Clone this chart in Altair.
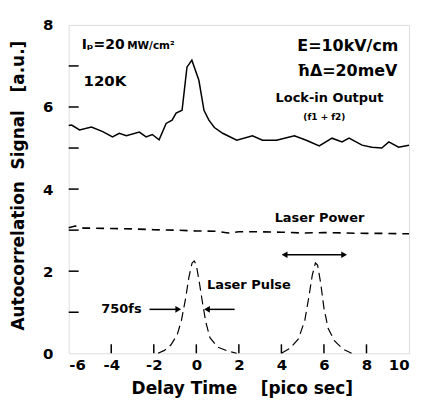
import altair as alt
import pandas as pd

# Lock-in output (f1+f2)
lock_x = [-6.0, -5.86, -5.49, -4.93, -4.4, -3.94, -3.62, -3.29, -2.68, -2.36, -2.07, -1.75, -1.42,
          -1.14, -0.95, -0.67, -0.44, -0.21, 0.12, 0.36, 0.59, 0.85, 1.24, 1.9, 2.64, 3.11, 3.77,
          4.61, 5.17, 5.78, 6.38, 6.85, 7.18, 7.79, 8.25, 8.72, 9.05, 9.51, 10.0]
lock_y = [5.55, 5.56, 5.44, 5.51, 5.4, 5.27, 5.36, 5.3, 5.39, 5.27, 5.33, 5.2, 5.6,
          5.68, 5.85, 5.92, 6.97, 7.14, 6.65, 5.92, 5.68, 5.5, 5.36, 5.19, 5.3, 5.19, 5.19,
          5.3, 5.19, 5.05, 5.24, 5.15, 5.24, 5.07, 5.02, 5.0, 5.15, 5.02, 5.07]

# Laser power
pow_x = [-6.0, -5.7, -5.3, -5.0, -4.0, -3.0, -2.0, -1.0, 0.0, 1.0, 1.5, 2.0, 3.0, 4.0, 5.0, 6.0, 7.0, 8.0, 9.0, 10.0]
pow_y = [3.06, 3.1, 3.05, 3.05, 3.04, 3.03, 3.01, 3.0, 2.98, 2.97, 2.93, 2.96, 2.96, 2.95, 2.93, 2.94, 2.93, 2.92, 2.92, 2.91]

# Laser pulses
p1_x = [-1.8, -1.5, -1.2, -0.9, -0.7, -0.5, -0.35, -0.2, -0.1, 0.0, 0.15, 0.3, 0.45, 0.64, 1.0, 1.5, 1.9]
p1_y = [0.0, 0.07, 0.2, 0.45, 0.8, 1.35, 1.85, 2.2, 2.25, 2.15, 1.7, 1.2, 0.75, 0.38, 0.15, 0.05, 0.0]
p2_x = [4.0, 4.4, 4.8, 5.1, 5.3, 5.45, 5.6, 5.7, 5.85, 6.0, 6.2, 6.5, 6.9, 7.3]
p2_y = [0.0, 0.12, 0.35, 0.8, 1.4, 1.9, 2.2, 2.15, 1.7, 1.1, 0.6, 0.3, 0.1, 0.0]

x_labels = [-6, -4, -2, 0, 2, 4, 6, 8, 10]
y_labels = [0, 2, 4, 6, 8]
x_ticks = [-4, -2, 0, 2, 4, 6, 8]
y_ticks = [1, 2, 3, 4, 5, 6, 7]

NB = "\u00a0"
x_title = "Delay" + NB + "Time" + NB * 4 + "[pico" + NB + "sec]"
y_title = "Autocorrelation" + NB * 2 + "Signal" + NB * 3 + "[a.u.]"

# annotations
ann_text = ["120K", "E=10kV/cm", "ħΔ=20meV", "Lock-in Output", "Laser Power", "Laser Pulse", "750fs"]
ann_x = [-5.3, 9.5, 9.45, 6.26, 5.79, 2.47, -3.52]
ann_y = [6.64, 7.49, 6.88, 6.23, 3.3, 1.67, 1.07]
ann_size = [15, 16, 16, 13, 13, 13, 13]
ann_align = ["left", "right", "right", "center", "center", "center", "center"]

FONT = "DejaVu Sans"
W, H = 342, 330
xs = alt.Scale(domain=[-6, 10], nice=False, zero=False)
ys = alt.Scale(domain=[0, 8], nice=False, zero=False)

lock = pd.DataFrame({"x": lock_x, "y": lock_y})
power = pd.DataFrame({"x": pow_x, "y": pow_y})
pulse = pd.DataFrame({"x": p1_x + p2_x, "y": p1_y + p2_y,
                      "g": ["a"] * len(p1_x) + ["b"] * len(p2_x)})

base_x = alt.X("x:Q", scale=xs,
               axis=alt.Axis(values=x_labels, ticks=False, domain=False, grid=False,
                             labelExpr="'' + datum.value", labelFont=FONT, labelFontSize=15,
                             labelFontWeight="bold", labelColor="black", labelPadding=4,
                             title=x_title, titleFont=FONT, titleFontSize=17,
                             titleFontWeight="bold", titleColor="black", titlePadding=8,
                             titleX=174))
base_y = alt.Y("y:Q", scale=ys,
               axis=alt.Axis(values=y_labels, ticks=False, domain=False, grid=False,
                             labelFont=FONT, labelFontSize=15, labelFontWeight="bold",
                             labelColor="black", labelPadding=16,
                             title=y_title, titleFont=FONT, titleFontSize=17,
                             titleFontWeight="bold", titleColor="black", titlePadding=15,
                             titleY=161))

lock_line = alt.Chart(lock).mark_line(color="black", strokeWidth=1.5).encode(x=base_x, y=base_y)
power_line = alt.Chart(power).mark_line(color="black", strokeWidth=1.6, strokeDash=[8, 6]).encode(
    x=alt.X("x:Q", scale=xs), y=alt.Y("y:Q", scale=ys))
pulse_line = alt.Chart(pulse).mark_line(color="black", strokeWidth=1.2, strokeDash=[9, 5]).encode(
    x=alt.X("x:Q", scale=xs), y=alt.Y("y:Q", scale=ys), detail="g:N")

xt = alt.Chart(pd.DataFrame({"x": x_ticks})).mark_rule(color="black", strokeWidth=1.5).encode(
    x=alt.X("x:Q", scale=xs), y=alt.value(H), y2=alt.value(H - 9))
yt = alt.Chart(pd.DataFrame({"y": y_ticks})).mark_rule(color="black", strokeWidth=1.5).encode(
    y=alt.Y("y:Q", scale=ys), x=alt.value(0), x2=alt.value(10))

ann = pd.DataFrame({"t": ann_text, "x": ann_x, "y": ann_y, "s": ann_size, "a": ann_align})
texts = []
for _, r in ann.iterrows():
    texts.append(alt.Chart(pd.DataFrame([r])).mark_text(
        font=FONT, fontWeight="bold", fontSize=float(r.s), align=r.a, baseline="middle",
        color="black").encode(x=alt.X("x:Q", scale=xs), y=alt.Y("y:Q", scale=ys), text="t:N"))

ip = alt.Chart(pd.DataFrame({"t": ["Iₚ=20"], "x": [-5.39], "y": [7.42]})).mark_text(
    font=FONT, fontWeight="bold", fontSize=14, align="left", baseline="alphabetic", color="black").encode(
    x=alt.X("x:Q", scale=xs), y=alt.Y("y:Q", scale=ys), text="t:N")
mw = alt.Chart(pd.DataFrame({"t": ["MW/cm²"], "x": [-3.25], "y": [7.42]})).mark_text(
    font=FONT, fontWeight="bold", fontSize=10.5, align="left", baseline="alphabetic", color="black").encode(
    x=alt.X("x:Q", scale=xs), y=alt.Y("y:Q", scale=ys), text="t:N")
ff = alt.Chart(pd.DataFrame({"t": ["(f1 + f2)"], "x": [6.02], "y": [5.75]})).mark_text(
    font=FONT, fontWeight="bold", fontSize=9, align="center", baseline="middle", color="black").encode(
    x=alt.X("x:Q", scale=xs), y=alt.Y("y:Q", scale=ys), text="t:N")

# arrows
arr_x1 = [-2.2, 1.8, 4.15]
arr_x2 = [-0.85, 0.5, 6.95]
arr_y = [1.07, 1.07, 2.4]
arrows = pd.DataFrame({"x": arr_x1, "x2": arr_x2, "y": arr_y})
arr_lines = alt.Chart(arrows).mark_rule(color="black", strokeWidth=1.5).encode(
    x=alt.X("x:Q", scale=xs), x2="x2:Q", y=alt.Y("y:Q", scale=ys))
head_x = [-0.85, 0.5, 4.15, 6.95]
head_y = [1.07, 1.07, 2.4, 2.4]
head_s = ["triangle-right", "triangle-left", "triangle-left", "triangle-right"]
heads = alt.Chart(pd.DataFrame({"x": head_x, "y": head_y, "s": head_s})).mark_point(
    filled=True, color="black", size=45, opacity=1).encode(
    x=alt.X("x:Q", scale=xs), y=alt.Y("y:Q", scale=ys),
    shape=alt.Shape("s:N", scale=None, legend=None))

chart = alt.layer(lock_line, power_line, pulse_line, xt, yt, arr_lines, heads, ip, mw, ff, *texts).properties(
    width=W, height=H,
    autosize=alt.AutoSizeParams(type="none"),
    padding={"left": 61, "top": 16, "right": 5, "bottom": 50},
).configure_view(stroke="black", strokeWidth=2).configure(background="white")

chart.save("out.html", embed_options={"renderer": "svg", "actions": False})
